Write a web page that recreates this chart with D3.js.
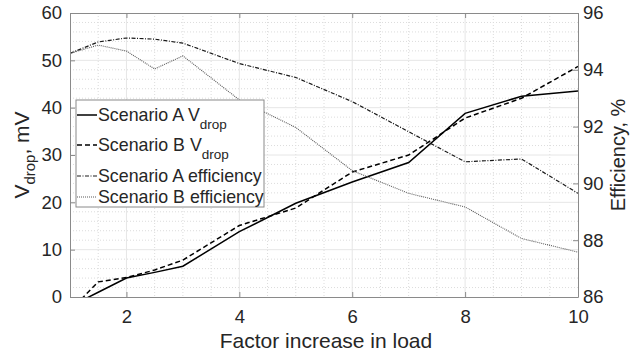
<!DOCTYPE html>
<html>
<head>
<meta charset="utf-8">
<script src="https://cdn.jsdelivr.net/npm/d3@7/dist/d3.min.js"></script>
<style>
  body { margin: 0; background: #fff; overflow: hidden; }
  svg text { font-family: "Liberation Sans", Arial, sans-serif; fill: #262626; }
</style>
</head>
<body>
<svg width="630" height="358"></svg>
<script>
const loadFactor = [1, 1.5, 2, 2.5, 3, 4, 5, 6, 7, 8, 9, 10];
const vdropA = [-2.0, 1.0, 4.0, 5.2, 6.5, 13.8, 19.8, 24.3, 28.4, 38.8, 42.4, 43.5];
const vdropB = [-2.9, 3.2, 4.1, 5.7, 7.8, 15.1, 18.8, 26.4, 30.0, 37.8, 42.0, 48.7];
const effA = [94.58, 94.98, 95.12, 95.08, 94.94, 94.22, 93.73, 92.88, 91.82, 90.76, 90.86, 89.65];
const effB = [94.58, 94.87, 94.66, 94.03, 94.49, 92.94, 91.97, 90.45, 89.65, 89.17, 88.06, 87.58];

const xTicks = [2, 4, 6, 8, 10];
const yLeftTicks = [0, 10, 20, 30, 40, 50, 60];
const yRightTicks = [86, 88, 90, 92, 94, 96];

const svg = d3.select("svg"),
      margin = { top: 13, right: 52, bottom: 61, left: 70 },
      width = 630 - margin.left - margin.right,
      height = 358 - margin.top - margin.bottom;

const x = d3.scaleLinear().domain([1, 10]).range([0, width]);
const yL = d3.scaleLinear().domain([0, 60]).range([height, 0]);
const yR = d3.scaleLinear().domain([86, 96]).range([height, 0]);

const chart = svg.append("g")
    .attr("transform", `translate(${margin.left},${margin.top})`);

// grid: minor dotted, major solid
chart.append("g").selectAll("line")
  .data(d3.range(1.5, 10, 0.5).filter(v => !xTicks.includes(v)))
  .enter().append("line")
  .attr("x1", d => x(d)).attr("x2", d => x(d))
  .attr("y1", 0).attr("y2", height)
  .attr("stroke", "#dcdcdc").attr("stroke-dasharray", "1,2");
chart.append("g").selectAll("line")
  .data(d3.range(2, 60, 2).filter(v => v % 10 !== 0))
  .enter().append("line")
  .attr("x1", 0).attr("x2", width)
  .attr("y1", d => yL(d)).attr("y2", d => yL(d))
  .attr("stroke", "#dcdcdc").attr("stroke-dasharray", "1,2");
chart.append("g").selectAll("line")
  .data(xTicks.slice(0, -1))
  .enter().append("line")
  .attr("x1", d => x(d)).attr("x2", d => x(d))
  .attr("y1", 0).attr("y2", height)
  .attr("stroke", "#e6e6e6");
chart.append("g").selectAll("line")
  .data(yLeftTicks.slice(1, -1))
  .enter().append("line")
  .attr("x1", 0).attr("x2", width)
  .attr("y1", d => yL(d)).attr("y2", d => yL(d))
  .attr("stroke", "#e6e6e6");

// clip
chart.append("clipPath").attr("id", "clip")
  .append("rect").attr("width", width).attr("height", height);

const series = [
  { name: "Scenario A V", sub: "drop", vals: vdropA, y: yL, color: "#000", w: 1.5, dash: null },
  { name: "Scenario B V", sub: "drop", vals: vdropB, y: yL, color: "#000", w: 1.5, dash: "5,3" },
  { name: "Scenario A efficiency", sub: null, vals: effA, y: yR, color: "#1a1a1a", w: 1.2, dash: "4,1.5,1,1.5" },
  { name: "Scenario B efficiency", sub: null, vals: effB, y: yR, color: "#5a5a5a", w: 1.1, dash: "1,1" }
];

series.forEach(s => {
  const line = d3.line()
    .x((d, i) => x(loadFactor[i]))
    .y(d => s.y(d));
  chart.append("path")
    .datum(s.vals)
    .attr("clip-path", "url(#clip)")
    .attr("fill", "none")
    .attr("stroke", s.color)
    .attr("stroke-width", s.w)
    .attr("stroke-dasharray", s.dash)
    .attr("d", line);
});

// axes
const axisColor = "#8a8a8a";
function styleAxis(g) {
  g.select(".domain").attr("stroke", axisColor);
  g.selectAll(".tick line").attr("stroke", axisColor);
  g.selectAll(".tick text").attr("fill", "#262626").style("font-size", "18.5px")
    .style("font-family", "Liberation Sans, Arial, sans-serif");
}
chart.append("g")
    .attr("transform", `translate(0,${height})`)
    .call(d3.axisBottom(x).tickValues(xTicks).tickSizeInner(-5).tickSizeOuter(0).tickPadding(13))
    .call(styleAxis);
chart.append("g")
    .call(d3.axisTop(x).tickValues(xTicks).tickSizeInner(-5).tickSizeOuter(0).tickFormat(""))
    .call(styleAxis);
chart.append("g")
    .call(d3.axisLeft(yL).tickValues(yLeftTicks).tickSizeInner(-5).tickSizeOuter(0).tickPadding(8))
    .call(styleAxis);
chart.append("g")
    .attr("transform", `translate(${width},0)`)
    .call(d3.axisRight(yR).tickValues(yRightTicks).tickSizeInner(-5).tickSizeOuter(0).tickPadding(5))
    .call(styleAxis);

// axis labels
svg.append("text")
    .attr("x", margin.left + width / 2 + 2)
    .attr("y", 348)
    .attr("text-anchor", "middle")
    .style("font-size", "21px")
    .text("Factor increase in load");

const yl = svg.append("text")
    .attr("transform", `translate(29,${margin.top + height / 2}) rotate(-90)`)
    .attr("text-anchor", "middle")
    .style("font-size", "21px");
yl.append("tspan").text("V");
yl.append("tspan").attr("dy", 6).style("font-size", "15px").text("drop");
yl.append("tspan").attr("dy", -6).text(", mV");

svg.append("text")
    .attr("transform", `translate(625,${margin.top + height / 2}) rotate(-90)`)
    .attr("text-anchor", "middle")
    .style("font-size", "20px")
    .text("Efficiency, %");

// legend
const legend = svg.append("g").attr("transform", "translate(76,100)");
legend.append("rect")
    .attr("width", 188).attr("height", 107)
    .attr("fill", "#fff").attr("stroke", "#8a8a8a");
const rowY = [15, 45, 76, 97];
series.forEach((s, i) => {
  const g = legend.append("g").attr("transform", `translate(0,${rowY[i]})`);
  g.append("line")
    .attr("x1", 1).attr("x2", 21).attr("y1", 0).attr("y2", 0)
    .attr("stroke", s.color).attr("stroke-width", s.w)
    .attr("stroke-dasharray", s.dash);
  const t = g.append("text").attr("x", 22).attr("y", 6).style("font-size", "17.8px");
  t.append("tspan").text(s.name);
  if (s.sub) t.append("tspan").attr("dy", 8).style("font-size", "13.5px").text(s.sub);
});
</script>
</body>
</html>
